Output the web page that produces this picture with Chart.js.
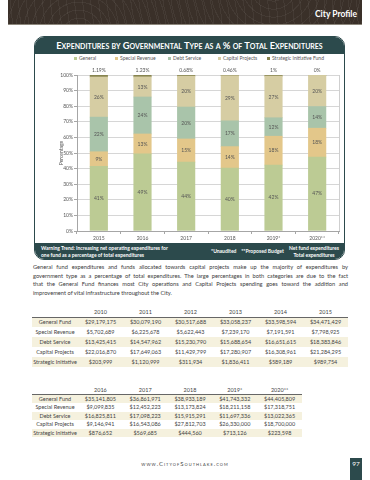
<!DOCTYPE html>
<html lang="en">
<head>
<meta charset="UTF-8">
<title>Expenditures by Governmental Type</title>
<script src="https://cdn.jsdelivr.net/npm/chart.js@4.4.1/dist/chart.umd.min.js"></script>
<style>
    body {
        margin: 0;
        width: 370px;
        height: 480px;
        position: relative;
        overflow: hidden;
        background: #fff;
        font-family: Lato, "Open Sans", sans-serif;
        color: #444;
    }

    .abs { position: absolute; }

    #header {
        left: 8px; top: 0; width: 354px; height: 24px;
        background-color: #3a3029;
        background-image:
            repeating-radial-gradient(circle at 20% 140%, rgba(255,255,255,0) 0 7px, rgba(255,255,255,0.05) 7px 8px),
            repeating-radial-gradient(circle at 75% -60%, rgba(255,255,255,0) 0 7px, rgba(255,255,255,0.05) 7px 8px);
        border-bottom: 1px solid #8d877c;
    }
    #header span {
        position: absolute; right: 5px; top: 9px;
        color: #fff; font-weight: bold; font-size: 8.5px;
    }

    #panel {
        left: 34px; top: 36px; width: 309px; height: 222px;
        border: 1.3px solid #2c4a4c;
        border-radius: 10px;
        overflow: hidden;
    }
    #titleBar {
        left: 0; top: 0; width: 100%; height: 17px;
        background: #2c4a4c; color: #fff;
        font-weight: bold; font-size: 9.3px; font-variant: small-caps;
        text-align: center; line-height: 17px;
    }
    #noteBar {
        left: 0; bottom: 0; width: 100%; height: 16px;
        background: #2c4a4c; color: #fff;
        font-weight: bold; font-size: 5px; line-height: 7px;
    }

    .legendItem {
        position: absolute; top: 55px;
        font-size: 5px; line-height: 6px; color: #555; white-space: nowrap;
    }
    .legendItem i {
        display: inline-block; width: 3px; height: 3px; margin-right: 2px; vertical-align: 0.5px;
    }

    #chartBox { left: 35px; top: 64px; width: 309px; height: 180px; }

    #para {
        left: 33px; top: 263px; width: 315px;
        font-size: 5.7px; line-height: 8.5px; color: #3a3a3a;
    }
    #para div { text-align: justify; text-align-last: justify; white-space: nowrap; }
    #para div:last-child { text-align-last: left; }

    table {
        position: absolute; border-collapse: collapse; table-layout: fixed;
        font-size: 5.5px; color: #444;
    }
    td, th { padding: 0; text-align: center; font-weight: normal; white-space: nowrap; }
    th { border-bottom: 1px solid #666; }
    tr.shade td { background: #f5f1de; }
    #t1 { left: 32px; top: 307px; width: 316px; }
    #t1 tr { height: 10px; }
    #t2 { left: 32px; top: 386px; width: 270px; }
    #t2 tr { height: 8.5px; }

    #url {
        left: 0; width: 370px; top: 460px; text-align: center;
        font-size: 6px; letter-spacing: 1px; font-variant: small-caps; color: #444;
    }
    #pageNo {
        left: 350px; top: 458px; width: 12px; height: 22px;
        background: #2c4a4c; color: #fff; font-size: 6.5px; text-align: center; line-height: 12px;
    }
</style>
</head>
<body>
    <div id="header" class="abs"><span>City Profile</span></div>

    <div id="panel" class="abs">
        <div id="titleBar" class="abs">Expenditures by Governmental Type as a % of Total Expenditures</div>
        <div id="noteBar" class="abs">
            <div class="abs" style="left:6px; top:1.5px;">Warning Trend: Increasing net operating expenditures for<br>one fund as a percentage of total expenditures</div>
            <div class="abs" style="left:176px; top:5px;">*Unaudited&nbsp;&nbsp;&nbsp;&nbsp;**Proposed Budget</div>
            <div class="abs" style="left:250px; width:58px; top:1.5px; text-align:center;">Net fund expenditures<br>Total expenditures</div>
        </div>
    </div>

    <div id="legend"></div>

    <div id="chartBox" class="abs"><canvas id="expChart"></canvas></div>

    <div id="para" class="abs">
        <div>General fund expenditures and funds allocated towards capital projects make up the majority of expenditures by</div>
        <div>government type as a percentage of total expenditures. The large percentages in both categories are due to the fact</div>
        <div>that the General Fund finances most City operations and Capital Projects spending goes toward the addition and</div>
        <div>improvement of vital infrastructure throughout the City.</div>
    </div>

    <table id="t1"></table>
    <table id="t2"></table>

    <div id="url" class="abs">www.CityofSouthlake.com</div>
    <div id="pageNo" class="abs">97</div>

<script>
    'use strict';

    // chart data (percent of total expenditures)
    const years = ['2015', '2016', '2017', '2018', '2019*', '2020**'];
    const generalPct = [41.4, 49.4, 44.1, 40.4, 42.3, 47.4];
    const specialPct = [9.4, 12.8, 14.9, 13.7, 18.45, 18.49];
    const debtPct = [22.2, 23.7, 20.47, 16.53, 11.85, 13.9];
    const capitalPct = [25.7, 12.9, 19.8, 28.9, 26.7, 19.96];
    const strategicPct = [1.19, 1.23, 0.68, 0.46, 0.72, 0.24];
    const strategicLabels = ['1.19%', '1.23%', '0.68%', '0.46%', '1%', '0%'];

    const seriesNames = ['General', 'Special Revenue', 'Debt Service', 'Capital Projects', 'Strategic Initiative Fund'];
    const seriesColors = ['#bccb94', '#e3c78a', '#a9c4aa', '#d6cda3', '#87844f'];

    // table data
    const rowNames = ['General Fund', 'Special Revenue', 'Debt Service', 'Capital Projects', 'Strategic Initiative'];
    const years1 = ['2010', '2011', '2012', '2013', '2014', '2015'];
    const table1 = [
        ['$29,179,175', '$30,079,190', '$30,517,688', '$33,058,237', '$33,598,594', '$34,471,429'],
        ['$5,702,689', '$6,225,678', '$5,622,443', '$7,239,170', '$7,191,591', '$7,798,925'],
        ['$13,425,415', '$14,547,962', '$15,230,790', '$15,688,654', '$16,651,615', '$18,383,846'],
        ['$22,016,870', '$17,649,063', '$11,429,799', '$17,280,907', '$16,308,961', '$21,284,295'],
        ['$203,999', '$1,120,999', '$311,934', '$1,836,411', '$589,189', '$989,754']
    ];
    const years2 = ['2016', '2017', '2018', '2019*', '2020**'];
    const table2 = [
        ['$35,141,805', '$36,861,971', '$38,933,189', '$41,743,332', '$44,405,809'],
        ['$9,099,835', '$12,452,223', '$13,173,824', '$18,211,158', '$17,318,751'],
        ['$16,825,811', '$17,098,223', '$15,915,291', '$11,697,336', '$13,022,365'],
        ['$9,146,941', '$16,543,086', '$27,812,703', '$26,330,000', '$18,700,000'],
        ['$876,652', '$569,685', '$444,560', '$713,126', '$223,598']
    ];

    // legend
    const legendLeft = [74, 115, 168, 218, 267];
    const legend = document.getElementById('legend');
    seriesNames.forEach((name, i) => {
        const el = document.createElement('div');
        el.className = 'legendItem';
        el.style.left = legendLeft[i] + 'px';
        el.innerHTML = '<i style="background:' + seriesColors[i] + '"></i>' + name;
        legend.appendChild(el);
    });

    // tables
    function fillTable(id, head, rows, labelWidth, colWidth) {
        const t = document.getElementById(id);
        let html = '<colgroup><col style="width:' + labelWidth + 'px">';
        head.forEach(() => { html += '<col style="width:' + colWidth + 'px">'; });
        html += '</colgroup><tr><th></th>';
        head.forEach(y => { html += '<th>' + y + '</th>'; });
        html += '</tr>';
        rows.forEach((r, i) => {
            html += '<tr' + (i % 2 === 0 ? ' class="shade"' : '') + '><td>' + rowNames[i] + '</td>';
            r.forEach(v => { html += '<td>' + v + '</td>'; });
            html += '</tr>';
        });
        t.innerHTML = html;
    }
    fillTable('t1', years1, table1, 46, 45);
    fillTable('t2', years2, table2, 46, 44.8);

    // labels inside the bars, strategic share above, plus plot frame
    const barLabels = {
        id: 'barLabels',
        afterDatasetsDraw(chart) {
            const ctx = chart.ctx;
            const a = chart.chartArea;
            ctx.save();
            ctx.strokeStyle = '#cfcfcf';
            ctx.lineWidth = 1;
            ctx.beginPath();
            ctx.moveTo(Math.round(a.right) + 0.5, a.top);
            ctx.lineTo(Math.round(a.right) + 0.5, a.bottom);
            ctx.stroke();
            ctx.font = '5px Lato';
            ctx.fillStyle = '#555';
            ctx.textAlign = 'center';
            ctx.textBaseline = 'middle';
            chart.data.datasets.forEach((ds, i) => {
                chart.getDatasetMeta(i).data.forEach((bar, j) => {
                    if (i === 4) {
                        ctx.fillText(strategicLabels[j], bar.x, bar.y - 4.5);
                    } else {
                        ctx.fillText(Math.round(ds.data[j]) + '%', bar.x, (bar.y + bar.base) / 2);
                    }
                });
            });
            ctx.restore();
        }
    };

    const seriesData = [generalPct, specialPct, debtPct, capitalPct, strategicPct];

    new Chart(document.getElementById('expChart'), {
        type: 'bar',
        data: {
            labels: years,
            datasets: seriesNames.map((name, i) => ({
                label: name,
                data: seriesData[i],
                backgroundColor: seriesColors[i],
                barThickness: 17.5
            }))
        },
        options: {
            responsive: true,
            maintainAspectRatio: false,
            animation: false,
            layout: { padding: { left: 20, right: 5, top: 11, bottom: 0 } },
            plugins: {
                legend: { display: false },
                tooltip: { enabled: false }
            },
            scales: {
                x: {
                    stacked: true,
                    afterFit(scale) { scale.height = 13; },
                    grid: { offset: true, drawOnChartArea: false, tickLength: 3, color: '#a6a6a6' },
                    border: { color: '#a6a6a6' },
                    ticks: { font: { family: 'Lato', size: 5 }, color: '#555', padding: 1 }
                },
                y: {
                    stacked: true,
                    min: 0,
                    max: 100,
                    afterFit(scale) { scale.width = 22; },
                    grid: { color: '#d6d6d6', tickLength: 3, tickColor: '#a6a6a6' },
                    border: { color: '#a6a6a6' },
                    ticks: {
                        stepSize: 10,
                        padding: 1,
                        font: { family: 'Lato', size: 5 },
                        color: '#555',
                        callback: v => v + '%'
                    },
                    title: {
                        display: true,
                        text: 'Percentage',
                        font: { family: 'Lato', size: 5 },
                        color: '#555',
                        padding: { top: 3, bottom: 0 }
                    }
                }
            }
        },
        plugins: [barLabels]
    });
</script>
</body>
</html>
